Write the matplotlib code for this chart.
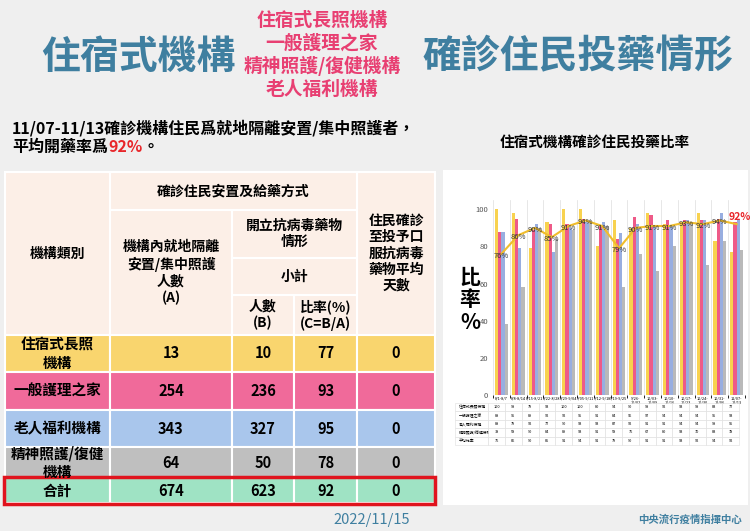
import matplotlib
matplotlib.use("Agg")
import matplotlib.pyplot as plt
from matplotlib.patches import Rectangle
import numpy as np

plt.rcParams['font.family'] = ['Noto Sans CJK TC', 'DejaVu Sans']

periods = ["8/1-8/7","8/8-8/14","8/15-8/21","8/22-8/28","8/29-9/04","9/05-9/11","9/12-9/18","9/19-9/25",
           "9/26-\n10/02","10/03-\n10/09","10/10-\n10/16","10/17-\n10/23","10/24-\n10/30","10/31-\n11/06","11/07-\n11/13"]
s_ltc   = [100,98,79,93,100,100,80,94,90,98,92,93,98,83,77]
s_nurse = [88,95,89,92,92,95,91,84,96,97,94,94,94,95,93]
s_elder = [88,79,92,77,90,93,93,87,92,91,91,94,94,98,95]
s_psy   = [38,58,90,84,89,93,91,58,76,67,80,93,70,83,78]
s_avg   = [76,86,90,85,91,94,91,79,90,91,91,93,92,94,92]
series_names = ["住宿式長照機構","一般護理之家","老人福利機構","精神照護/復健機構","平均比率"]

tbl_rows = ["住宿式長照\n機構","一般護理之家","老人福利機構","精神照護/復健\n機構","合計"]
tbl_A = [13,254,343,64,674]
tbl_B = [10,236,327,50,623]
tbl_C = [77,93,95,78,92]
tbl_D = [0,0,0,0,0]
row_colors = ["#f9d56e","#f06a9a","#a9c6ec","#bfbfbf","#9fe3c4"]

W, H = 750, 531
fig = plt.figure(figsize=(7.5, 5.31), dpi=100, facecolor="#efefef")
ov = fig.add_axes([0, 0, 1, 1])
ov.set_xlim(0, W); ov.set_ylim(H, 0); ov.axis("off")

blue = "#3f7fa0"; pink = "#e83f72"
ov.text(138, 57, "住宿式機構", fontsize=28, fontweight="bold", color=blue, ha="center", va="center")
ov.text(578, 57, "確診住民投藥情形", fontsize=28, fontweight="bold", color=blue, ha="center", va="center")
for i, t in enumerate(["住宿式長照機構","一般護理之家","精神照護/復健機構","老人福利機構"]):
    ov.text(322, 20 + i*23, t, fontsize=13.5, fontweight="bold", color=pink, ha="center", va="center")

ov.text(12, 128, "11/07-11/13確診機構住民爲就地隔離安置/集中照護者，", fontsize=11.5, fontweight="bold", ha="left", va="center")
t1 = ov.text(12, 147, "平均開藥率爲", fontsize=11.5, fontweight="bold", ha="left", va="center")
t2 = ov.annotate("92%", xy=(1, 0.5), xycoords=t1, fontsize=11.5, fontweight="bold", color="#e8262a", ha="left", va="center")
ov.annotate("。", xy=(1, 0.5), xycoords=t2, fontsize=11.5, fontweight="bold", ha="left", va="center")
ov.text(595, 142, "住宿式機構確診住民投藥比率", fontsize=10.5, fontweight="bold", ha="center", va="center")

# table
xs = [5, 110, 232, 294, 357, 435]
hdr = "#fcefe7"
def cell(x0, y0, x1, y1, fc, txt="", fs=10, color="black"):
    ov.add_patch(Rectangle((x0, y0), x1-x0, y1-y0, facecolor=fc, edgecolor="white", lw=1.5))
    if txt != "":
        ov.text((x0+x1)/2, (y0+y1)/2, txt, fontsize=fs, fontweight="bold", ha="center", va="center", color=color, linespacing=1.2)
cell(xs[0], 172, xs[1], 335, hdr, "機構類別")
cell(xs[1], 172, xs[4], 210, hdr, "確診住民安置及給藥方式")
cell(xs[4], 172, xs[5], 335, hdr, "住民確診\n至投予口\n服抗病毒\n藥物平均\n天數")
cell(xs[1], 210, xs[2], 335, hdr, "機構內就地隔離\n安置/集中照護\n人數\n(A)")
cell(xs[2], 210, xs[4], 258, hdr, "開立抗病毒藥物\n情形")
cell(xs[2], 258, xs[4], 295, hdr, "小計")
cell(xs[2], 295, xs[3], 335, hdr, "人數\n(B)")
cell(xs[3], 295, xs[4], 335, hdr, "比率(%)\n(C=B/A)")
ys = [335, 372, 410, 447, 478, 503]
for i in range(5):
    vals = [tbl_rows[i], tbl_A[i], tbl_B[i], tbl_C[i], tbl_D[i]]
    for j in range(5):
        cell(xs[j], ys[i], xs[j+1], ys[i+1], row_colors[i], str(vals[j]), fs=10.5)
ov.add_patch(Rectangle((4, 477), 431, 27, facecolor="none", edgecolor="#e0141e", lw=2.5))

ov.text(372, 520, "2022/11/15", fontsize=10.5, color="#3f7fa0", ha="center", va="center")
ov.text(690, 520, "中央流行疫情指揮中心", fontsize=7.5, fontweight="bold", color="#3f7fa0", ha="center", va="center")

# chart panel
ov.add_patch(Rectangle((443, 170), 305, 335, facecolor="white", edgecolor="none"))
ov.text(470, 300, "比\n率\n%", fontsize=15, fontweight="bold", ha="center", va="center", linespacing=1.1)

ax = fig.add_axes([493/W, 1-395/H, 252/W, (395-200)/H])
n = len(periods); x = np.arange(n); bw = 0.19
cols = ["#f8d24f", "#ee5a88", "#98aee0", "#b9b9b9"]
for k, s in enumerate([s_ltc, s_nurse, s_elder, s_psy]):
    ax.bar(x + (k-1.5)*bw, s, bw, color=cols[k], label=series_names[k])
ax.plot(x, s_avg, color="#f0bd2c", lw=1.5, label=series_names[4])
for i, v in enumerate(s_avg):
    if i == n-1:
        ax.text(x[i]+0.2, v+1, f"{v}%", fontsize=7.5, color="#e8262a", fontweight="bold", ha="center", va="bottom")
    else:
        ax.text(x[i], v-1, f"{v}%", fontsize=5.5, color="#333", ha="center", va="center")
ax.set_ylim(0, 105); ax.set_xlim(-0.5, n-0.5)
ax.set_yticks([0,20,40,60,80,100])
ax.tick_params(axis="y", labelsize=5.5, colors="#555", length=0)
ax.set_xticks(x); ax.set_xticklabels(periods, fontsize=2.8)
ax.tick_params(axis="x", length=0, pad=1)
for sp in ax.spines.values(): sp.set_visible(False)
ax.set_xticks(np.arange(-0.5, n, 1), minor=True)
ax.grid(axis="x", which="minor", color="#dddddd", lw=0.5)

tax = fig.add_axes([450/W, 1-445/H, 295/W, 42/H]); tax.axis("off")
rows = [s_ltc, s_nurse, s_elder, s_psy, s_avg]
tb = tax.table(cellText=[[str(v) for v in r] for r in rows], rowLabels=series_names,
               loc="center", cellLoc="center", bbox=[0.15, 0, 0.85, 1])
tb.auto_set_font_size(False); tb.set_fontsize(2.8)
for (r, c), cl in tb.get_celld().items():
    cl.set_edgecolor("#dddddd"); cl.set_linewidth(0.4)

fig.savefig("out.png", dpi=100, facecolor=fig.get_facecolor())
